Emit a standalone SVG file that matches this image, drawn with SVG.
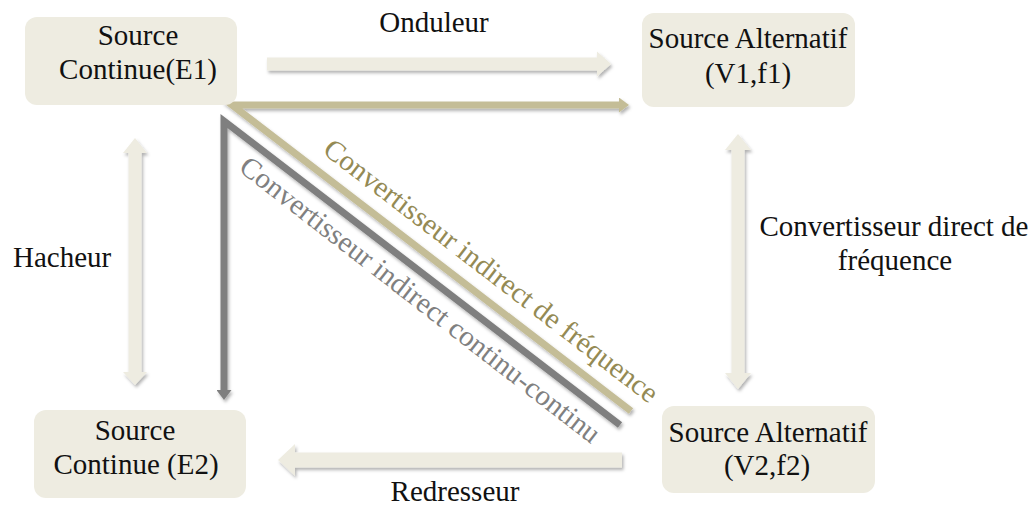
<svg xmlns="http://www.w3.org/2000/svg" width="1036" height="506" viewBox="0 0 1036 506">
<style>
.box{fill:#EEECE1;}
.t{font-family:"Liberation Serif","Times New Roman",serif;font-size:29px;fill:#111;text-anchor:middle;}
.lbl{font-family:"Liberation Serif","Times New Roman",serif;font-size:29px;fill:#111;}
.fat{fill:#EEECE1;}
.olive{fill:none;stroke:#C4BD97;stroke-width:7;stroke-linejoin:miter;stroke-miterlimit:6;}
.gray{fill:none;stroke:#7F7F7F;stroke-width:7;stroke-linejoin:miter;stroke-miterlimit:6;}
.dt{font-family:"Liberation Serif","Times New Roman",serif;font-size:29px;}
</style>
<defs>
<filter id="sh" x="-10%" y="-10%" width="130%" height="130%">
<feDropShadow dx="1.5" dy="2.5" stdDeviation="1.5" flood-color="#000" flood-opacity="0.3"/>
</filter>
<marker id="hOlive" markerUnits="userSpaceOnUse" markerWidth="10" markerHeight="15" refX="1" refY="7.5" orient="auto">
<path d="M0,0 L10,7.5 L0,15 Z" fill="#C4BD97"/>
</marker>
<marker id="hGray" markerUnits="userSpaceOnUse" markerWidth="10" markerHeight="15" refX="1" refY="7.5" orient="auto">
<path d="M0,0 L10,7.5 L0,15 Z" fill="#7F7F7F"/>
</marker>
</defs>
<rect width="1036" height="506" fill="#fff"/>

<g id="connectors" filter="url(#sh)">
<path id="onduleur-arrow" class="fat" d="M267,57.5 H597 V51.5 L611,64 L597,76.5 V70.5 H267 Z"/>
<path id="redresseur-arrow" class="fat" d="M622,452.5 H295 V444 L278,460 L295,476 V467.5 H622 Z"/>
<path id="hacheur-arrow" class="fat" d="M135,138 L147,153 H141.5 V372 H147 L135,385 L123,372 H128.5 V153 H123 Z"/>
<path id="direct-arrow" class="fat" d="M738,134 L751,150 H744.5 V373 H751 L738,389 L725,373 H731.5 V150 H725 Z"/>
<polyline id="indirect-freq" class="olive" points="631,411 232,105 620,105" marker-end="url(#hOlive)"/>
<polyline id="indirect-cc" class="gray" points="620,425 224,121 224,391" marker-end="url(#hGray)"/>
</g>

<g id="node-e1">
<rect class="box" x="25" y="17" width="212" height="88" rx="12"/>
<text class="t" x="138" y="45">Source</text>
<text class="t" x="138" y="79">Continue(E1)</text>
</g>
<g id="node-v1">
<rect class="box" x="642" y="13" width="213" height="94" rx="12"/>
<text class="t" x="748" y="48">Source Alternatif</text>
<text class="t" x="748" y="83">(V1,f1)</text>
</g>
<g id="node-v2">
<rect class="box" x="662" y="406" width="213" height="87" rx="12"/>
<text class="t" x="768" y="442">Source Alternatif</text>
<text class="t" x="767" y="475">(V2,f2)</text>
</g>
<g id="node-e2">
<rect class="box" x="34" y="410" width="212" height="88" rx="12"/>
<text class="t" x="135" y="440">Source</text>
<text class="t" x="136" y="474">Continue (E2)</text>
</g>

<g id="labels">
<text class="t" x="434" y="32">Onduleur</text>
<text class="lbl" x="13" y="267">Hacheur</text>
<text class="t" x="894" y="236">Convertisseur direct de</text>
<text class="t" x="895" y="270">fréquence</text>
<text class="t" x="455" y="501">Redresseur</text>
<text class="dt" fill="#948A54" transform="translate(321.5,152.5) rotate(37.5)">Convertisseur indirect de fréquence</text>
<text class="dt" fill="#808080" transform="translate(237.5,170) rotate(37.8)">Convertisseur indirect continu-continu</text>
</g>
</svg>
